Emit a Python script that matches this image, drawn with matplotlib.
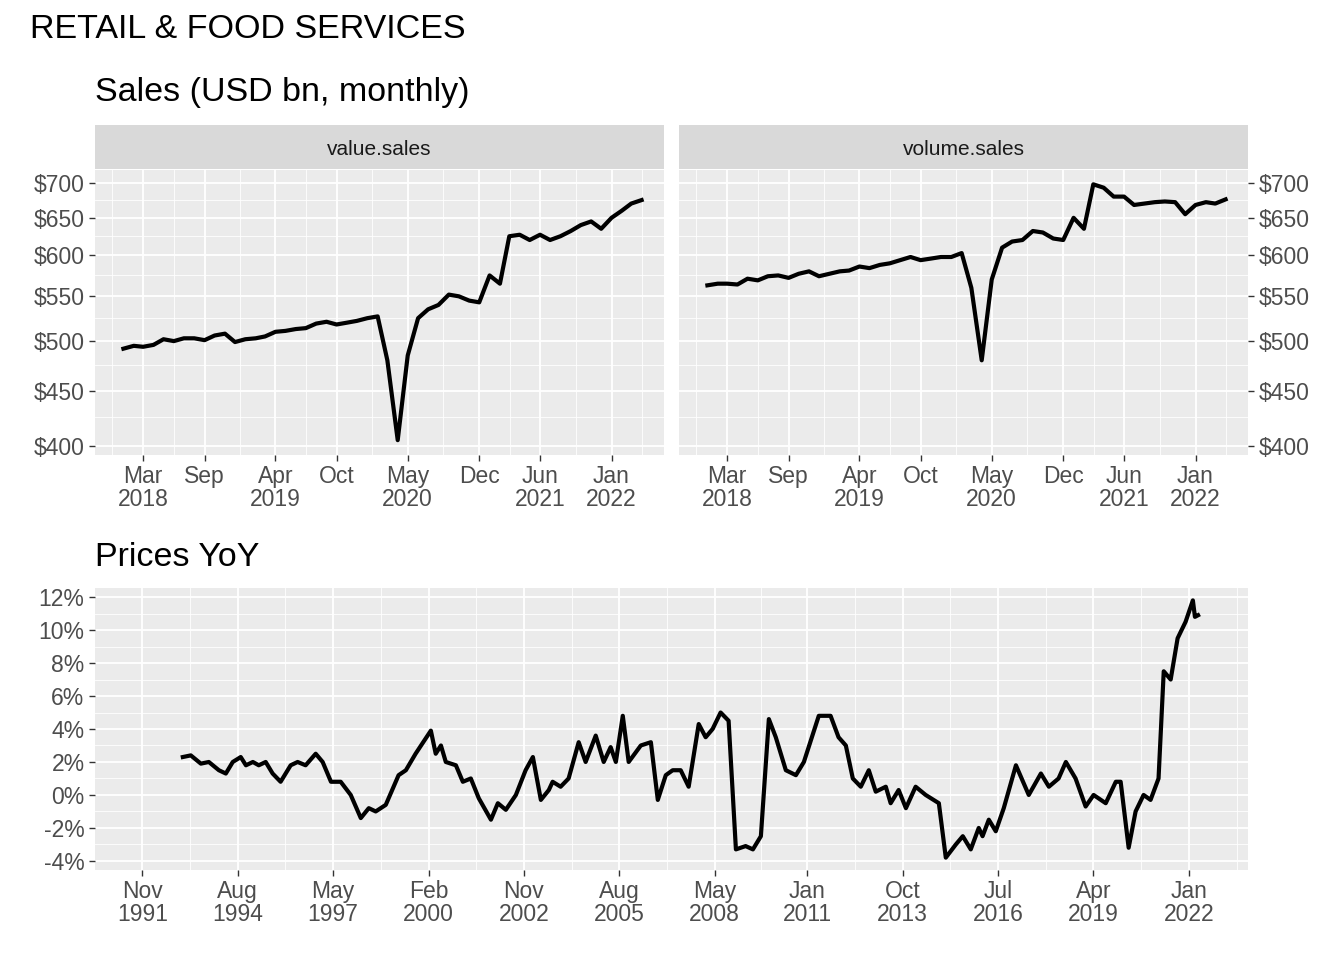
import matplotlib
matplotlib.use("Agg")
import matplotlib.pyplot as plt
import matplotlib.dates as mdates
import numpy as np
import pandas as pd
from datetime import datetime, timedelta

plt.rcParams['font.family'] = ['Liberation Sans', 'DejaVu Sans']

# ---------------- data ----------------
months = pd.date_range("2018-01-01", "2022-04-01", freq="MS")
value_sales = [492,495,494,496,502,500,503,503,501,506,508,499,
               502,503,505,510,511,513,514,519,521,518,520,522,
               525,527,480,405,485,525,535,540,552,550,545,543,
               575,565,625,627,620,627,620,625,632,640,645,635,
               650,660,670,675]
volume_sales = [563,565,565,564,571,569,574,575,572,577,580,574,
                577,580,581,586,584,588,590,594,598,594,596,598,
                598,603,560,480,570,610,618,620,632,630,622,620,
                650,635,698,693,680,680,668,670,672,673,672,655,
                668,672,670,676]

yoy_years = [1993.00,1993.23,1993.52,1993.75,1994.04,1994.24,1994.44,1994.67,1994.82,1995.02,
             1995.19,1995.39,1995.59,1995.82,1996.11,1996.31,1996.54,1996.83,1997.03,1997.27,
             1997.55,1997.84,1998.13,1998.36,1998.56,1998.85,1999.22,1999.43,1999.71,2000.15,
             2000.29,2000.44,2000.58,2000.87,2001.07,2001.30,2001.53,2001.88,2002.08,2002.31,
             2002.60,2002.88,2003.09,2003.32,2003.55,2003.66,2003.89,2004.12,2004.41,2004.61,
             2004.90,2005.13,2005.33,2005.48,2005.68,2005.85,2006.20,2006.49,2006.69,2006.92,
             2007.12,2007.35,2007.58,2007.87,2008.07,2008.27,2008.50,2008.73,2008.94,2009.22,
             2009.43,2009.66,2009.89,2010.09,2010.38,2010.67,2010.90,2011.33,2011.67,2011.90,
             2012.11,2012.31,2012.54,2012.77,2012.97,2013.26,2013.40,2013.63,2013.84,2014.12,
             2014.41,2014.79,2014.99,2015.28,2015.48,2015.71,2015.94,2016.05,2016.23,2016.43,
             2016.66,2017.01,2017.38,2017.73,2017.96,2018.24,2018.45,2018.73,2019.02,2019.25,
             2019.60,2019.89,2020.03,2020.26,2020.46,2020.69,2020.89,2021.12,2021.27,2021.47,
             2021.67,2021.90,2022.11,2022.17,2022.26]
yoy_values = [2.3,2.4,1.9,2.0,1.5,1.3,2.0,2.3,1.8,2.0,
              1.8,2.0,1.3,0.8,1.8,2.0,1.8,2.5,2.0,0.8,
              0.8,0.0,-1.4,-0.8,-1.0,-0.6,1.2,1.5,2.5,3.9,
              2.5,3.0,2.0,1.8,0.8,1.0,-0.2,-1.5,-0.5,-0.9,
              0.0,1.5,2.3,-0.3,0.3,0.8,0.5,1.0,3.2,2.0,
              3.6,2.0,2.9,2.0,4.8,2.0,3.0,3.2,-0.3,1.2,
              1.5,1.5,0.5,4.3,3.5,4.0,5.0,4.5,-3.3,-3.1,
              -3.3,-2.5,4.6,3.5,1.5,1.2,2.0,4.8,4.8,3.5,
              3.0,1.0,0.5,1.5,0.2,0.5,-0.5,0.3,-0.8,0.5,
              0.0,-0.5,-3.8,-3.0,-2.5,-3.3,-2.0,-2.5,-1.5,-2.2,
              -0.8,1.8,0.0,1.3,0.5,1.0,2.0,1.0,-0.7,0.0,
              -0.5,0.8,0.8,-3.2,-1.0,0.0,-0.3,1.0,7.5,7.0,
              9.5,10.5,11.8,10.8,10.9]

top_ticks = ["2018-03-01","2018-09-01","2019-04-01","2019-10-01","2020-05-01",
             "2020-12-01","2021-06-01","2022-01-01"]
top_labels = ["Mar\n2018","Sep","Apr\n2019","Oct","May\n2020","Dec","Jun\n2021","Jan\n2022"]
bot_ticks = ["1991-11-01","1994-08-01","1997-05-01","2000-02-01","2002-11-01","2005-08-01",
             "2008-05-01","2011-01-01","2013-10-01","2016-07-01","2019-04-01","2022-01-01"]
bot_labels = ["Nov\n1991","Aug\n1994","May\n1997","Feb\n2000","Nov\n2002","Aug\n2005",
              "May\n2008","Jan\n2011","Oct\n2013","Jul\n2016","Apr\n2019","Jan\n2022"]
sales_ticks = [400,450,500,550,600,650,700]
yoy_ticks = [-4,-2,0,2,4,6,8,10,12]

def dec2date(y):
    yr = int(np.floor(y))
    start = datetime(yr,1,1); end = datetime(yr+1,1,1)
    return start + (end-start)*(y-yr)

yoy_dates = [dec2date(y) for y in yoy_years]

# ---------------- figure ----------------
fig = plt.figure(figsize=(13.44,9.6), dpi=100)
GREY = "#EBEBEB"; TXT = "#4D4D4D"

def style(ax):
    ax.set_facecolor(GREY)
    for s in ax.spines.values():
        s.set_visible(False)
    ax.grid(which='major', color='white', lw=1.3)
    ax.grid(which='minor', color='white', lw=0.6)
    ax.set_axisbelow(True)
    ax.tick_params(which='major', length=4, color='#333333', labelcolor=TXT, labelsize=16.5, width=1)
    ax.tick_params(which='minor', length=0)

def minor_mid(ticks):
    t = mdates.date2num(pd.to_datetime(ticks))
    mids = list((t[:-1]+t[1:])/2)
    step = t[1]-t[0]
    return [t[0]-step/2] + mids + [t[-1]+step/2]

x0t = mdates.date2num(datetime(2017,10,8)); x1t = mdates.date2num(datetime(2022,6,7))
for i, (vals, name) in enumerate([(value_sales,"value.sales"),(volume_sales,"volume.sales")]):
    left = 95/1344 if i == 0 else 679/1344
    ax = fig.add_axes([left, 1-455/960, 569/1344, 285/960])
    style(ax)
    ax.plot(months, vals, color='black', lw=3)
    ax.set_yscale('log')
    ax.set_ylim(392.4, 719.6)
    ax.set_yticks(sales_ticks)
    ax.set_yticklabels([f"${v}" for v in sales_ticks])
    ax.yaxis.set_minor_locator(matplotlib.ticker.FixedLocator([425,475,525,575,625,675]))
    ax.yaxis.set_minor_formatter(matplotlib.ticker.NullFormatter())
    ax.set_xlim(x0t, x1t)
    ax.set_xticks(mdates.date2num(pd.to_datetime(top_ticks)))
    ax.set_xticklabels(top_labels, linespacing=0.95)
    ax.xaxis.set_minor_locator(matplotlib.ticker.FixedLocator(minor_mid(top_ticks)))
    if i == 1:
        ax.yaxis.tick_right()
        ax.tick_params(which='major', length=4, color='#333333')
    sax = fig.add_axes([left, 1-169/960, 569/1344, 44/960])
    sax.set_facecolor("#D9D9D9")
    sax.set_xticks([]); sax.set_yticks([])
    for s in sax.spines.values(): s.set_visible(False)
    sax.text(0.5, 0.45, name, ha='center', va='center', fontsize=15, color='#1A1A1A',
             transform=sax.transAxes)

ax = fig.add_axes([95/1344, 1-870/960, 1153/1344, 282/960])
style(ax)
ax.plot(yoy_dates, yoy_values, color='black', lw=3)
ax.set_ylim(-4.55, 12.55)
ax.set_yticks(yoy_ticks)
ax.set_yticklabels([f"{v}%" for v in yoy_ticks])
ax.yaxis.set_minor_locator(matplotlib.ticker.FixedLocator([-3,-1,1,3,5,7,9,11]))
ax.yaxis.set_minor_formatter(matplotlib.ticker.NullFormatter())
ax.set_xlim(mdates.date2num(dec2date(1990.47)), mdates.date2num(dec2date(2023.70)))
ax.set_xticks(mdates.date2num(pd.to_datetime(bot_ticks)))
ax.set_xticklabels(bot_labels, linespacing=0.95)
ax.xaxis.set_minor_locator(matplotlib.ticker.FixedLocator(minor_mid(bot_ticks)))

fig.text(30/1344, 1-30/960, "RETAIL & FOOD SERVICES", fontsize=24.5, va='center', ha='left')
fig.text(95/1344, 1-92/960, "Sales (USD bn, monthly)", fontsize=24.5, va='center', ha='left')
fig.text(95/1344, 1-557/960, "Prices YoY", fontsize=24.5, va='center', ha='left')

fig.savefig("out.png", dpi=100, facecolor='white')
